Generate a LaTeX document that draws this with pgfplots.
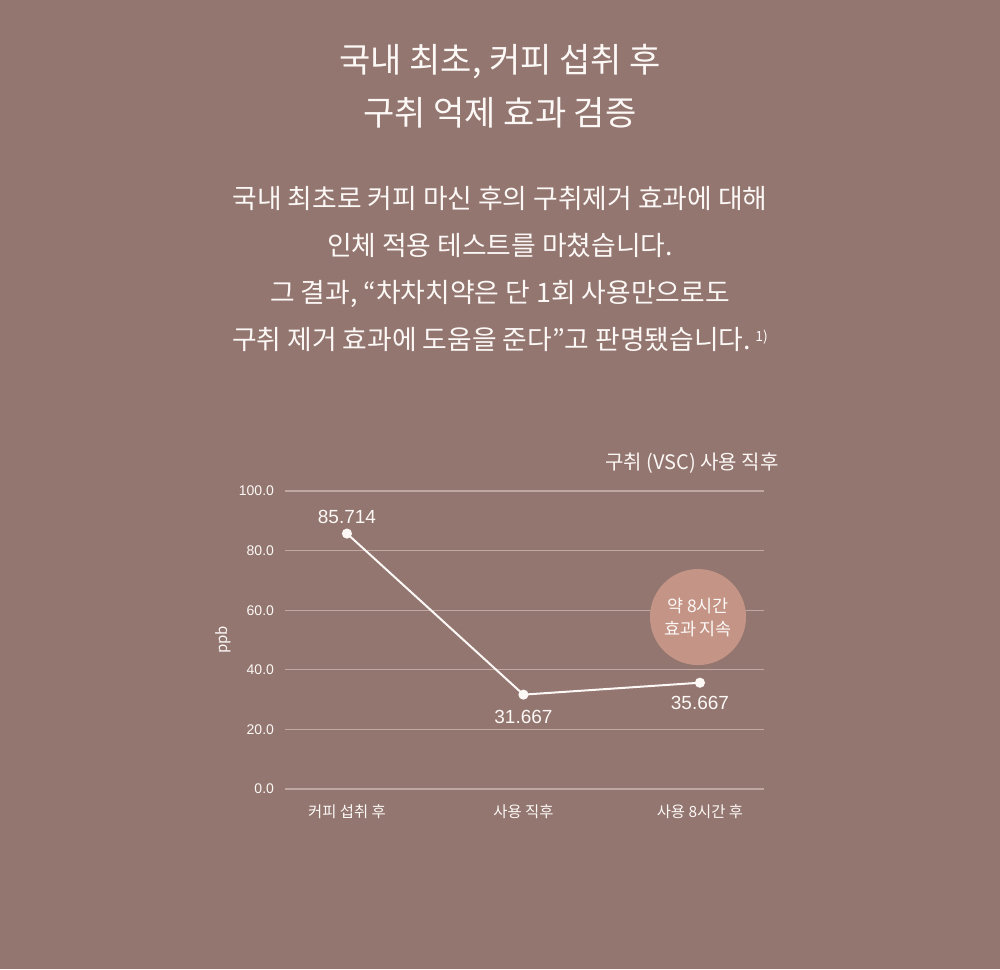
\documentclass[border=0pt]{standalone}
\usepackage{pgfplots}
\pgfplotsset{compat=1.18}
\usepackage{fontspec}
\setmainfont{Noto Sans CJK KR}
\newfontfamily\numfont{Liberation Sans}
\definecolor{bg}{RGB}{147,118,112}
\definecolor{gridc}{RGB}{192,168,162}
\definecolor{circ}{RGB}{196,149,134}
\definecolor{txt}{RGB}{252,248,246}
\begin{document}
\begin{tikzpicture}[x=1pt,y=1pt]
\fill[bg] (0,0) rectangle (500,484.5);
\node[txt, align=center, font=\fontsize{17}{26.5}\selectfont] at (250,441.25) {국내 최초, 커피 섭취 후\\구취 억제 효과 검증};
\node[txt, align=center, font=\fontsize{13.4}{23.6}\selectfont] at (250,350) {국내 최초로 커피 마신 후의 구취제거 효과에 대해\\인체 적용 테스트를 마쳤습니다.\\그 결과, “차차치약은 단 1회 사용만으로도\\구취 제거 효과에 도움을 준다”고 판명됐습니다.\,\raisebox{0.6ex}{\fontsize{7}{8}\selectfont 1)}};
\node[txt, anchor=east, inner sep=0pt, font=\fontsize{10}{11}\selectfont] at (389.5,253) {구취 (VSC) 사용 직후};
\node[txt, rotate=90, font=\fontsize{7.5}{9}\selectfont] at (111.5,164.5) {ppb};
\begin{axis}[
  at={(142.5pt,90pt)}, anchor=south west,
  scale only axis, width=239.5pt, height=149pt,
  xmin=-0.351, xmax=2.363, ymin=0, ymax=100,
  clip=false,
  axis line style={draw=none},
  major tick length=0pt,
  ymajorgrids,
  grid style={gridc, line width=0.6pt},
  ytick={0,20,40,60,80,100},
  xtick={0,1,2},
  xticklabels={커피 섭취 후, 사용 직후, 사용 8시간 후},
  /pgf/number format/fixed, /pgf/number format/fixed zerofill, /pgf/number format/precision=1, /pgf/number format/assume math mode=true,
  yticklabel style={font=\numfont\fontsize{7}{8}\selectfont, text=txt, anchor=east, xshift=-2pt},
  xticklabel style={font=\fontsize{7.7}{9}\selectfont, text=txt, anchor=north, yshift=-4.5pt},
]
\addplot[txt, line width=1pt, mark=*, mark size=2pt, mark options={fill=txt, draw=txt}] coordinates {(0,85.714) (1,31.667) (2,35.667)};
\fill[circ] (axis cs:1.989,57.7) circle (24pt);
\node[txt, align=center, font=\fontsize{8.7}{11.5}\selectfont] at (axis cs:1.989,57.7) {약 8시간\\효과 지속};
\node[txt, font=\numfont\fontsize{9.5}{11}\selectfont] at (axis cs:0,85.714) [yshift=8.5pt] {85.714};
\node[txt, font=\numfont\fontsize{9.5}{11}\selectfont] at (axis cs:1,31.667) [yshift=-11pt] {31.667};
\node[txt, font=\numfont\fontsize{9.5}{11}\selectfont] at (axis cs:2,35.667) [yshift=-10pt] {35.667};
\end{axis}
\end{tikzpicture}
\end{document}
